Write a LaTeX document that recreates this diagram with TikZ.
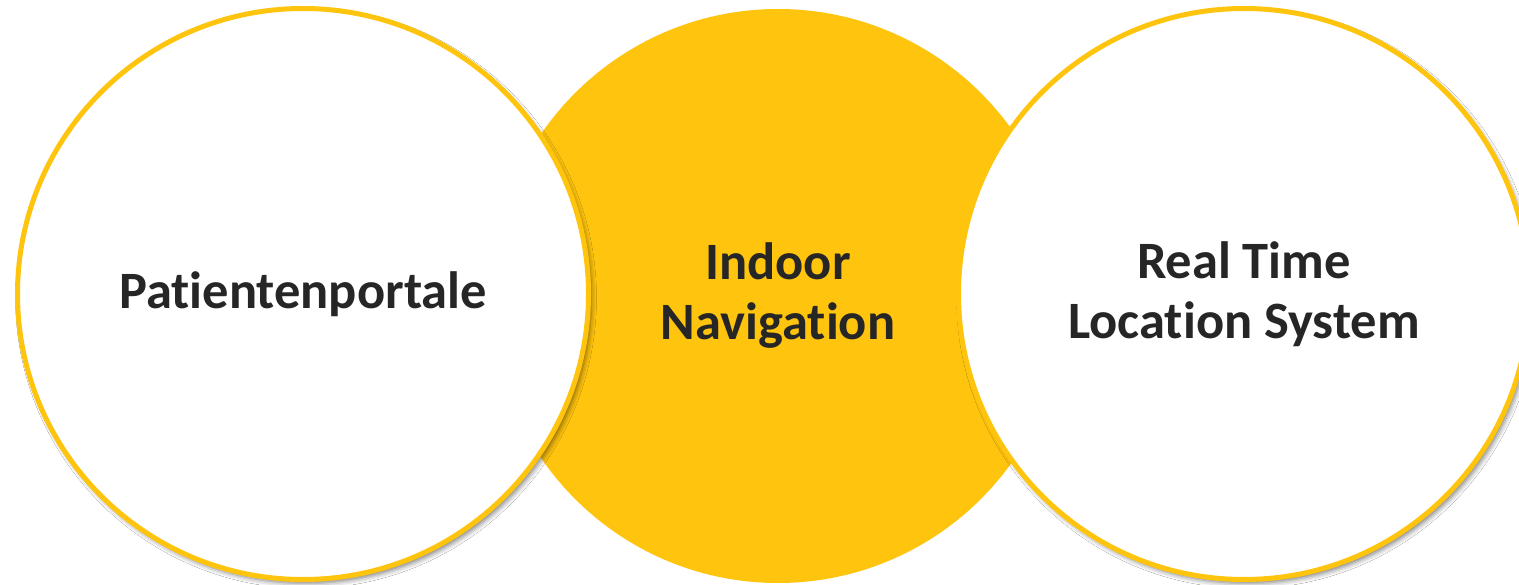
\documentclass[tikz,border=0pt]{standalone}
\usepackage{fontspec}
\setmainfont{Carlito}[Ligatures={NoCommon,NoContextual}, RawFeature={-liga;-clig;-dlig}]
\usetikzlibrary{shadows.blur}
\definecolor{ylw}{HTML}{FFC40E}
\definecolor{txt}{HTML}{262626}
\tikzset{
  ring/.style={circle, minimum size=571pt, inner sep=0pt, draw=ylw, line width=5pt, fill=white,
    blur shadow={shadow xshift=3pt, shadow yshift=-4pt, shadow blur radius=5pt, shadow opacity=50},
    text=txt, font=\bfseries\fontsize{52.5}{60}\selectfont, align=center},
  disc/.style={circle, minimum size=574pt, inner sep=0pt, fill=ylw,
    text=txt, font=\bfseries\fontsize{52.5}{60}\selectfont, align=center}
}
\begin{document}
\begin{tikzpicture}[x=1pt,y=-1pt]
  \useasboundingbox (0,0) rectangle (1519,585);
  \clip (0,0) rectangle (1519,585);
  \fill[white] (0,0) rectangle (1519,585);
  \node[disc] (mid) at (778,296) {Indoor\\Navigation};
  \node[ring] (left) at (303,294) {Patientenportale};
  \node[ring] (right) at (1244,294) {Real Time\\Location System};
\end{tikzpicture}
\end{document}
